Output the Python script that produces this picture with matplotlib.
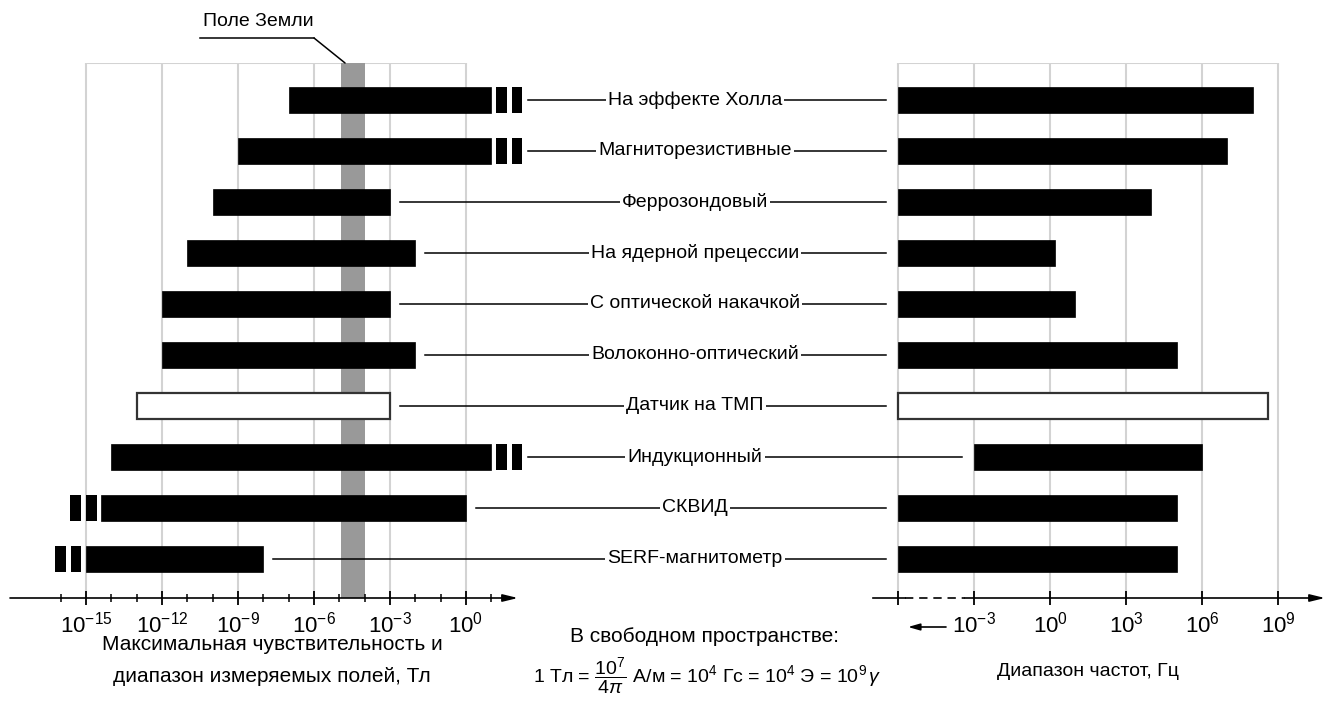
import numpy as np
import matplotlib
matplotlib.use('Agg')
import matplotlib.pyplot as plt
from matplotlib.lines import Line2D

plt.rcParams['font.family'] = ['Liberation Sans', 'DejaVu Sans']
plt.rcParams['mathtext.fontset'] = 'custom'
plt.rcParams['mathtext.rm'] = 'Liberation Sans'
plt.rcParams['mathtext.it'] = 'Liberation Sans:italic'

# --- data ---
sensors = ['На эффекте Холла', 'Магниторезистивные', 'Феррозондовый',
           'На ядерной прецессии', 'С оптической накачкой', 'Волоконно-оптический',
           'Датчик на ТМП', 'Индукционный', 'СКВИД', 'SERF-магнитометр']
# measured field range, Тл
field_min = [1e-7, 1e-9, 1e-10, 1e-11, 1e-12, 1e-12, 1e-13, 1e-14, 4e-15, 1e-15]
field_max = [1e1, 1e1, 1e-3, 1e-2, 1e-3, 1e-2, 1e-3, 1e1, 1e0, 1e-8]
# range continues beyond the bar (drawn with break marks)
field_break = ['right', 'right', None, None, None, None, None, 'right', 'left', 'left']
# frequency range, Гц (0 = from DC)
freq_min = [0, 0, 0, 0, 0, 0, 0, 1e-3, 0, 0]
freq_max = [1e8, 1e7, 1e4, 1.6, 10, 1e5, 4e8, 1e6, 1e5, 1e5]
open_bar = [False, False, False, False, False, False, True, False, False, False]

earth_field = (1.2e-5, 1e-4)

field_ticks = [-15, -12, -9, -6, -3, 0]
freq_ticks = [-6, -3, 0, 3, 6, 9]
dc_pos = 1e-6   # where "0 Hz" sits on the broken frequency axis

W, H = 1325, 705
fig = plt.figure(figsize=(W / 100, H / 100), dpi=100)

top_px, bot_px = 63, 598
px_dec = 76 / 3.0
ylim = (9.765, -0.725)
fs = 14
tfs = 16


def make_ax(x0_px, lo_exp, hi_exp):
    width_px = (hi_exp - lo_exp) * px_dec
    ax = fig.add_axes([x0_px / W, 1 - bot_px / H, width_px / W, (bot_px - top_px) / H])
    ax.set_xscale('log')
    ax.set_xlim(10 ** lo_exp, 10 ** hi_exp)
    ax.set_ylim(*ylim)
    for s in ax.spines.values():
        s.set_visible(False)
    ax.set_yticks([])
    ax.patch.set_alpha(0)
    return ax


ax1 = make_ax(10, -18.0, 2.29)
ax2 = make_ax(873, -6.99, 10.85)

rows = np.arange(len(sensors))
bh = 0.51
grid_c = '#d3d3d3'

# --- left panel: grid, earth band, bars ---
for e in field_ticks:
    ax1.plot([10.0 ** e] * 2, ylim, color=grid_c, lw=1.5, zorder=0)
ax1.plot([10.0 ** field_ticks[0], 10.0 ** field_ticks[-1]], [ylim[1]] * 2, color=grid_c, lw=1.5, zorder=0)
ax1.axvspan(*earth_field, color='#999999', lw=0, zorder=1)

blk = [(0.18, 0.6), (0.8, 1.22)]
for i in rows:
    lo, hi = field_min[i], field_max[i]
    fc = 'white' if open_bar[i] else 'black'
    ec = '#333333' if open_bar[i] else 'black'
    ax1.barh(i, hi - lo, left=lo, height=bh, color=fc, edgecolor=ec,
             lw=1.6 if open_bar[i] else 0.5, zorder=3)
    if field_break[i] == 'right':
        for a, b in blk:
            ax1.barh(i, hi * 10 ** b - hi * 10 ** a, left=hi * 10 ** a, height=bh,
                     color='black', lw=0.5, zorder=3)
    elif field_break[i] == 'left':
        for a, b in blk:
            ax1.barh(i, lo / 10 ** a - lo / 10 ** b, left=lo / 10 ** b, height=bh,
                     color='black', lw=0.5, zorder=3)

# --- right panel ---
for e in freq_ticks:
    ax2.plot([10.0 ** e] * 2, ylim, color=grid_c, lw=1.5, zorder=0)
ax2.plot([10.0 ** freq_ticks[0], 10.0 ** freq_ticks[-1]], [ylim[1]] * 2, color=grid_c, lw=1.5, zorder=0)
for i in rows:
    lo = freq_min[i] if freq_min[i] > 0 else dc_pos
    hi = freq_max[i]
    fc = 'white' if open_bar[i] else 'black'
    ec = '#333333' if open_bar[i] else 'black'
    ax2.barh(i, hi - lo, left=lo, height=bh, color=fc, edgecolor=ec,
             lw=1.6 if open_bar[i] else 0.5, zorder=3)

# --- connector lines and labels ---
fig.canvas.draw()
for i in rows:
    lo, hi = field_min[i], field_max[i]
    if field_break[i] == 'right':
        end = hi * 10 ** blk[1][1]
        gap = 6
    else:
        end = hi
        gap = 10
    x_a = ax1.transData.transform((end, i))
    flo = freq_min[i] if freq_min[i] > 0 else dc_pos
    x_b = ax2.transData.transform((flo, i))
    fig.add_artist(Line2D([(x_a[0] + gap) / W, (x_b[0] - 12) / W],
                          [x_a[1] / H, x_a[1] / H], color='black', lw=1.1))
    fig.text(695 / W, x_a[1] / H, sensors[i], ha='center', va='center', fontsize=fs,
             bbox=dict(fc='white', ec='none', pad=1.5), zorder=5)

# --- axes lines and ticks ---
ybot = ylim[0]
ax1.annotate('', xy=(10 ** 2.05, ybot), xytext=(10 ** -18.0, ybot), annotation_clip=False,
             arrowprops=dict(arrowstyle='-|>,head_length=0.9,head_width=0.22', color='black',
                             lw=1.2, shrinkA=0, shrinkB=0))
ax1.set_xticks([10.0 ** e for e in field_ticks])
ax1.set_xticklabels(['$10^{%d}$' % e for e in field_ticks], fontsize=tfs)
ax1.set_xticks([10.0 ** e for e in range(-16, 2) if e not in field_ticks], minor=True)
ax1.set_xticklabels([], minor=True)
ax1.tick_params(axis='x', which='major', direction='inout', length=10, width=1.3, pad=5)
ax1.tick_params(axis='x', which='minor', direction='inout', length=6, width=1.1)

ax2.plot([10 ** -6.99, 10 ** -5.72], [ybot] * 2, color='black', lw=1.2, clip_on=False)
ax2.plot([10 ** -5.72, 10 ** -3.36], [ybot] * 2, color='black', lw=1.2, ls=(0, (5, 3.5)), clip_on=False)
ax2.annotate('', xy=(10 ** 10.85, ybot), xytext=(10 ** -3.36, ybot), annotation_clip=False,
             arrowprops=dict(arrowstyle='-|>,head_length=0.9,head_width=0.22', color='black',
                             lw=1.2, shrinkA=0, shrinkB=0))
ax2.set_xticks([10.0 ** e for e in freq_ticks])
ax2.set_xticklabels([''] + ['$10^{%d}$' % e for e in freq_ticks[1:]], fontsize=tfs)
ax2.set_xticks([], minor=True)
ax2.tick_params(axis='x', which='major', direction='inout', length=10, width=1.3, pad=5)
ax2.annotate('', xy=(908, H - 627), xytext=(946, H - 627), xycoords='figure pixels',
             textcoords='figure pixels',
             arrowprops=dict(arrowstyle='-|>,head_length=0.7,head_width=0.2', color='black',
                             lw=1.2, shrinkA=0, shrinkB=0))

# --- texts ---
fig.text(272 / W, 1 - 645 / H, 'Максимальная чувствительность и', ha='center', va='center', fontsize=15)
fig.text(272 / W, 1 - 676 / H, 'диапазон измеряемых полей, Тл', ha='center', va='center', fontsize=15)
fig.text(1088 / W, 1 - 672 / H, 'Диапазон частот, Гц', ha='center', va='center', fontsize=fs)
fig.text(705 / W, 1 - 637 / H, 'В свободном пространстве:', ha='center', va='center', fontsize=15)
fig.text(707 / W, 1 - 676 / H,
         r'1 Тл = $\dfrac{10^7}{4\pi}$ А/м = $10^4$ Гс = $10^4$ Э = $10^9\,\gamma$',
         ha='center', va='center', fontsize=fs)

# earth field pointer
fig.text(203 / W, 1 - 22 / H, 'Поле Земли', ha='left', va='center', fontsize=fs)
fig.add_artist(Line2D([200 / W, 314 / W], [1 - 38 / H] * 2, color='black', lw=1.1))
ax1.annotate('', xy=(earth_field[0] * 1.4, ylim[1]),
             xytext=(314, H - 38), textcoords='figure pixels', annotation_clip=False,
             arrowprops=dict(arrowstyle='-', color='black', lw=1.1, shrinkA=0, shrinkB=0))

fig.savefig('out.png', dpi=100)
